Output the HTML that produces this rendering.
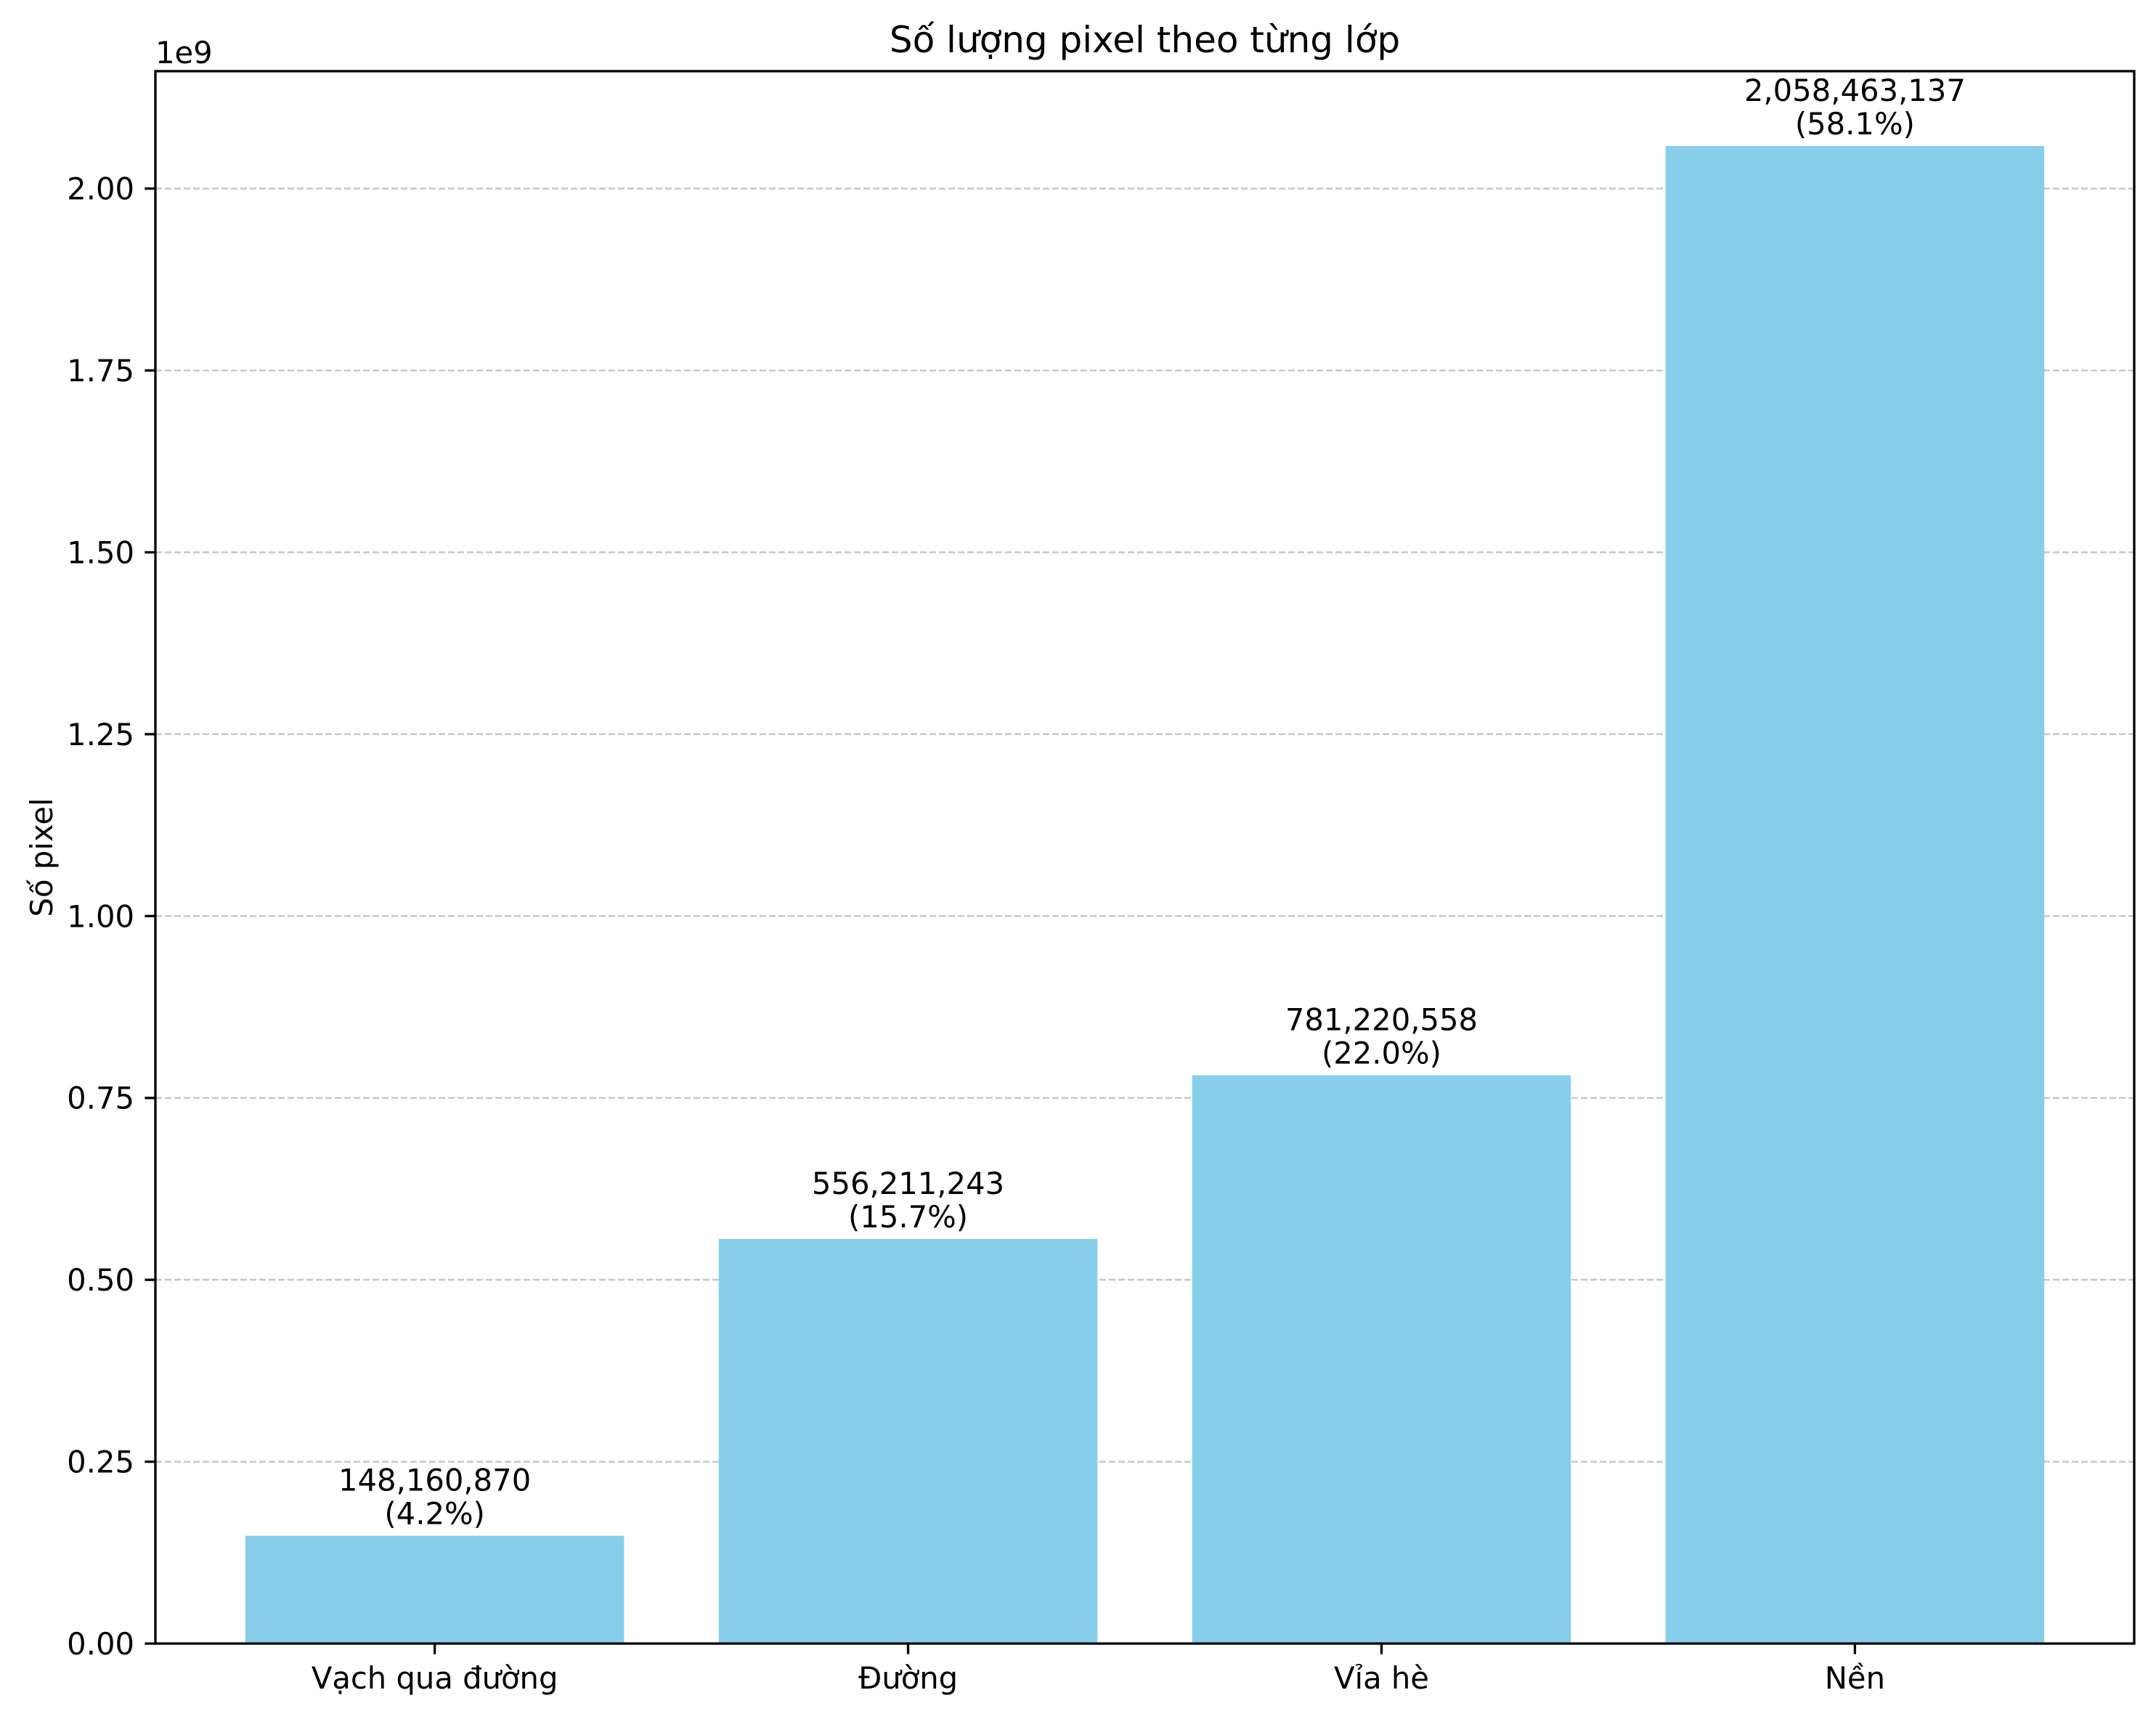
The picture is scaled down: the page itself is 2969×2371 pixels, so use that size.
<!DOCTYPE html>
<html><head><meta charset="utf-8"><style>
html,body{margin:0;padding:0;background:#fff}
svg text{font-family:"DejaVu Sans","Liberation Sans",sans-serif;fill:#000}
</style></head><body>
<svg id="chart" width="2969" height="2366" xmlns="http://www.w3.org/2000/svg">
<rect width="2969" height="2366" fill="#fff"/>
<g id="grid"></g><g id="bars"></g><g id="labels"></g><g id="axes"></g>
</svg>
<script>
const categories = ["Vạch qua đường","Đường","Vỉa hè","Nền"];
const values = [148160870,556211243,781220558,2058463137];
const percents = ["4.2%","15.7%","22.0%","58.1%"];
const yTicks = [0,0.25,0.5,0.75,1.0,1.25,1.5,1.75,2.0];
const yTickLabels = ["0.00","0.25","0.50","0.75","1.00","1.25","1.50","1.75","2.00"];

const L=214,R=2939,T=98,B=2263,FS=41.7;
const ymax=Math.max(...values)*1.05;
const xmin=-0.59,xmax=categories.length-1+0.59;
const X=v=>L+(v-xmin)/(xmax-xmin)*(R-L);
const Y=v=>B-v/ymax*(B-T);
const NS="http://www.w3.org/2000/svg";
function mk(tag,attrs,parent,text){const e=document.createElementNS(NS,tag);for(const k in attrs)e.setAttribute(k,attrs[k]);if(text!==undefined)e.textContent=text;parent.appendChild(e);return e;}
const grid=document.getElementById('grid'),bars=document.getElementById('bars'),labels=document.getElementById('labels'),axes=document.getElementById('axes');
yTicks.forEach((t,i)=>{
  const y=Y(t*1e9);
  if(t>0){const g=mk('line',{x1:L,x2:R,y1:y,y2:y,stroke:'#b0b0b0','stroke-opacity':0.7,'stroke-width':2.5,'stroke-dasharray':'9,4'},grid);
  
  }
  const tk=mk('line',{x1:L-14.6,x2:L,y1:y,y2:y,stroke:'#000','stroke-width':3.3},axes);
  
  
  const tl=mk('text',{x:L-29,y:y+15,'text-anchor':'end','font-size':FS},axes,yTickLabels[i]);
  
  
});
const bw=0.8;
categories.forEach((c,i)=>{
  const x0=X(i-bw/2),x1=X(i+bw/2),yt=Y(values[i]);
  const r=mk('rect',{x:x0,y:yt,width:x1-x0,height:B-yt,fill:'#87ceeb'},bars);
  
  
  const t1=mk('text',{x:X(i),y:yt-62,'text-anchor':'middle','font-size':FS},labels,values[i].toLocaleString('en-US'));
  
  
  const t2=mk('text',{x:X(i),y:yt-16,'text-anchor':'middle','font-size':FS},labels,'('+percents[i]+')');
  
  
  const tk=mk('line',{x1:X(i),x2:X(i),y1:B,y2:B+14.6,stroke:'#000','stroke-width':3.3},axes);
  
  
  const xl=mk('text',{x:X(i),y:B+62,'text-anchor':'middle','font-size':FS},axes,c);
  
  
});
const frame=mk('rect',{x:L,y:T,width:R-L,height:B-T,fill:'none',stroke:'#000','stroke-width':3.3},axes);


const title=mk('text',{x:(L+R)/2,y:72,'text-anchor':'middle','font-size':50},axes,'Số lượng pixel theo từng lớp');


const off=mk('text',{x:L,y:87,'font-size':FS},axes,'1e9');


const yl=mk('text',{x:0,y:0,'text-anchor':'middle','font-size':FS,transform:'translate(72,'+((T+B)/2)+') rotate(-90)'},axes,'Số pixel');


</script>
</body></html>
